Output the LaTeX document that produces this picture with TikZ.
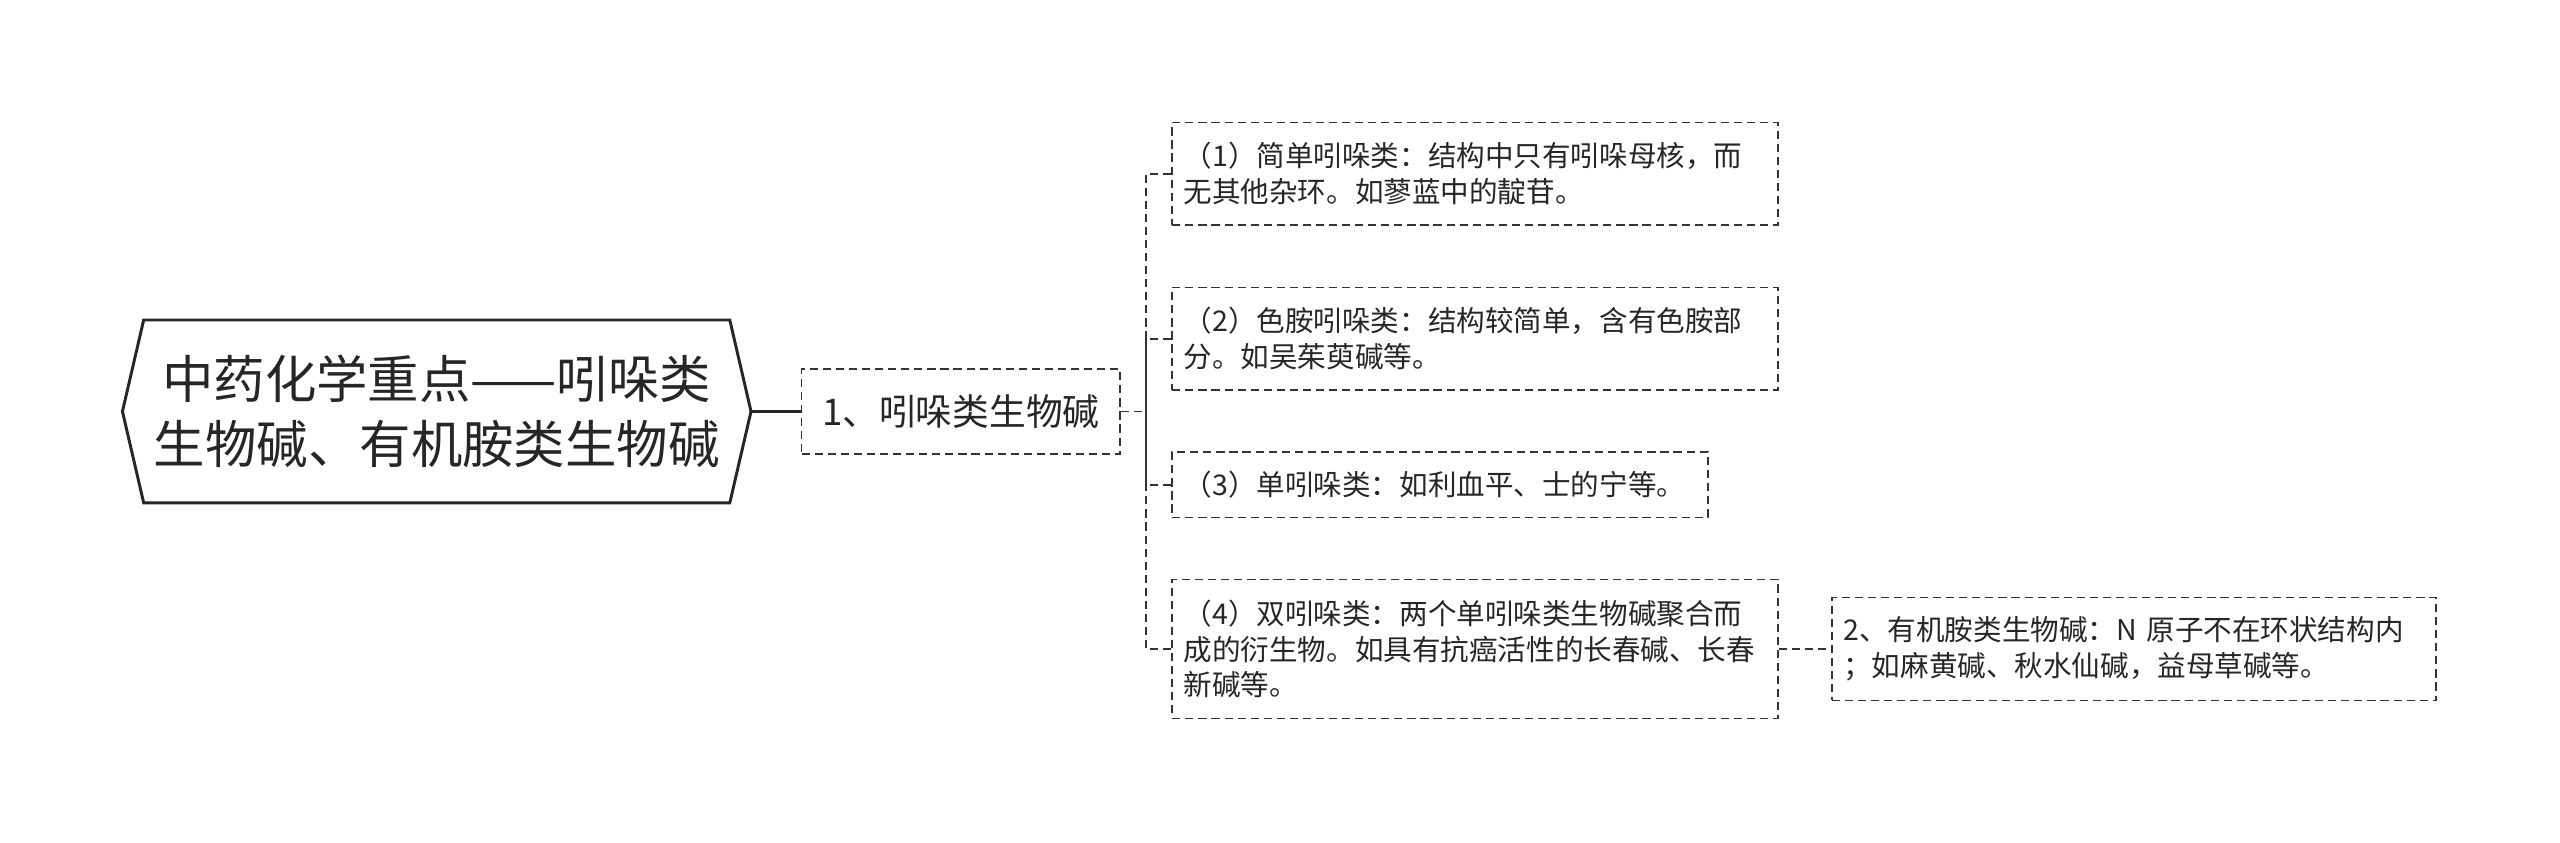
\documentclass[tikz,border=0pt]{standalone}
\usepackage{fontspec}
\setmainfont{Noto Sans CJK SC}
\begin{document}
\begin{tikzpicture}[x=1pt,y=-1pt,
  box/.style={draw=black!80,dash pattern=on 5pt off 3pt,line width=1pt,rectangle,inner sep=0pt,align=left,font=\fontsize{17.5}{22}\selectfont,text=black!85},
  link/.style={draw=black!80,dash pattern=on 5pt off 3pt,line width=1pt}]
\useasboundingbox (0,0) rectangle (1568,516);
\draw[line width=1.8pt,draw=black!85] (75,252)--(88,196)--(447,196)--(460,252)--(447,308)--(88,308)--cycle;
\node[font=\fontsize{31.5}{40}\selectfont,align=center,text=black!85] (root) at (267.5,252) {中药化学重点——吲哚类\\生物碱、有机胺类生物碱};
\coordinate (rootr) at (460,252);
\node[box,minimum width=195,minimum height=52,font=\fontsize{22.5}{26}\selectfont] (n1) at (588.5,252) {1、吲哚类生物碱};
\node[box,minimum width=371,minimum height=63,text width=357] (c1) at (903.5,106.5) {（1）简单吲哚类：结构中只有吲哚母核，而\\无其他杂环。如蓼蓝中的靛苷。};
\node[box,minimum width=371,minimum height=63,text width=357] (c2) at (903.5,207.5) {（2）色胺吲哚类：结构较简单，含有色胺部\\分。如吴茱萸碱等。};
\node[box,minimum width=328,minimum height=40,text width=314] (c3) at (882,297) {（3）单吲哚类：如利血平、士的宁等。};
\node[box,minimum width=371,minimum height=85,text width=357] (c4) at (903.5,397.5) {（4）双吲哚类：两个单吲哚类生物碱聚合而\\成的衍生物。如具有抗癌活性的长春碱、长春\\新碱等。};
\node[box,minimum width=370,minimum height=63,text width=356] (c5) at (1307,397.5) {2、有机胺类生物碱：N 原子不在环状结构内\\；如麻黄碱、秋水仙碱，益母草碱等。};
\draw[line width=1.8pt,draw=black!85] (rootr) -- (n1.west);
\coordinate (bus) at (702,252);
\draw[link] (n1.east) -- (bus);
\draw[link] (c1.west) -| (bus);
\draw[link] (c2.west) -| (bus);
\draw[link] (c3.west) -| (bus);
\draw[link] (c4.west) -| (bus);
\draw[link] (c4.east) -- (c5.west);
\end{tikzpicture}
\end{document}
